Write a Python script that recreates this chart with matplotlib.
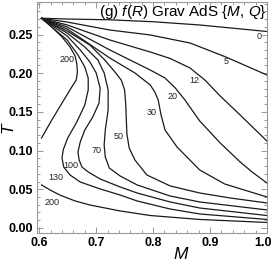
import matplotlib
matplotlib.use('Agg')
import matplotlib.pyplot as plt
from matplotlib.ticker import MultipleLocator, FormatStrFormatter
from matplotlib.transforms import ScaledTranslation

plt.rcParams['font.family'] = ['Liberation Sans', 'DejaVu Sans']
plt.rcParams['mathtext.fontset'] = 'custom'
plt.rcParams['mathtext.rm'] = 'Liberation Sans'
plt.rcParams['mathtext.it'] = 'Liberation Sans:italic'

# ---- contour lines (M, T) ----
M_0 = [0.604, 0.649, 0.724, 0.800, 0.882, 1.000]
T_0 = [0.271, 0.2700, 0.2690, 0.2665, 0.2623, 0.2539]

M_5 = [0.604, 0.649, 0.724, 0.795, 0.865, 0.928, 1.000]
T_5 = [0.271, 0.2661, 0.2558, 0.2494, 0.2390, 0.2209, 0.1977]

M_12 = [0.604, 0.649, 0.724, 0.795, 0.830, 0.865, 0.891, 0.918, 0.953, 1.000]
T_12 = [0.271, 0.2623, 0.2429, 0.2274, 0.2190, 0.2067, 0.1912, 0.1705, 0.1460, 0.1124]

M_20 = [0.604, 0.649, 0.724, 0.795, 0.821, 0.839, 0.856, 0.882, 0.918, 0.953, 0.974, 1.000]
T_20 = [0.271, 0.2597, 0.2300, 0.2041, 0.1938, 0.1809, 0.1654, 0.1382, 0.1098, 0.0853, 0.0724, 0.0581]

M_30 = [0.604, 0.649, 0.724, 0.768, 0.795, 0.803, 0.809, 0.814, 0.821, 0.842, 0.882, 0.926, 1.000]
T_30 = [0.271, 0.2571, 0.2196, 0.2003, 0.1848, 0.1757, 0.1654, 0.1460, 0.1266, 0.1047, 0.0749, 0.0568, 0.0401]

M_50 = [0.604, 0.649, 0.689, 0.715, 0.733, 0.744, 0.750, 0.752, 0.753, 0.754, 0.758, 0.768, 0.789, 0.830, 0.882, 0.935, 1.000]
T_50 = [0.271, 0.2545, 0.2364, 0.2171, 0.2016, 0.1912, 0.1783, 0.1589, 0.1395, 0.1214, 0.1034, 0.0879, 0.0685, 0.0543, 0.0452, 0.0388, 0.0323]

M_70 = [0.604, 0.649, 0.680, 0.703, 0.714, 0.721, 0.721, 0.716, 0.714, 0.716, 0.723, 0.742, 0.772, 0.830, 0.882, 1.000]
T_70 = [0.271, 0.2519, 0.2339, 0.2171, 0.2003, 0.1783, 0.1525, 0.1266, 0.1072, 0.0917, 0.0775, 0.0672, 0.0556, 0.0413, 0.0336, 0.0233]

M_100 = [0.604, 0.649, 0.672, 0.689, 0.700, 0.707, 0.705, 0.694, 0.680, 0.672, 0.668, 0.670, 0.675, 0.686, 0.707, 0.742, 0.772, 0.830, 0.882, 1.000]
T_100 = [0.271, 0.2481, 0.2300, 0.2145, 0.2003, 0.1809, 0.1615, 0.1434, 0.1266, 0.1111, 0.0982, 0.0879, 0.0788, 0.0724, 0.0633, 0.0530, 0.0452, 0.0336, 0.0258, 0.0161]

M_130 = [0.604, 0.628, 0.649, 0.668, 0.680, 0.686, 0.686, 0.680, 0.666, 0.650, 0.642, 0.640, 0.643, 0.654, 0.672, 0.707, 0.742, 0.772, 0.830, 0.882, 1.000]
T_130 = [0.271, 0.2558, 0.2429, 0.2235, 0.2080, 0.1938, 0.1783, 0.1589, 0.1370, 0.1163, 0.1008, 0.0904, 0.0788, 0.0685, 0.0594, 0.0504, 0.0426, 0.0349, 0.0245, 0.0181, 0.0110]

M_200a = [0.604, 0.622, 0.640, 0.654, 0.663, 0.666, 0.667, 0.665, 0.656, 0.640, 0.622, 0.604]
T_200a = [0.271, 0.2597, 0.2468, 0.2339, 0.2222, 0.2119, 0.2016, 0.1912, 0.1809, 0.1615, 0.1395, 0.1163]

M_200b = [0.604, 0.619, 0.636, 0.663, 0.689, 0.742, 0.795, 0.882, 1.000]
T_200b = [0.0556, 0.0491, 0.0426, 0.0349, 0.0297, 0.0220, 0.0161, 0.0110, 0.0071]

curves = [(M_0, T_0), (M_5, T_5), (M_12, T_12), (M_20, T_20), (M_30, T_30),
          (M_50, T_50), (M_70, T_70), (M_100, T_100), (M_130, T_130),
          (M_200a, T_200a), (M_200b, T_200b)]

label_text = ['0', '5', '12', '20', '30', '50', '70', '100', '130', '200', '200']
label_M = [0.986, 0.928, 0.872, 0.835, 0.798, 0.739, 0.701, 0.656, 0.629, 0.649, 0.622]
label_T = [0.2468, 0.2145, 0.190, 0.1693, 0.1486, 0.1176, 0.0995, 0.0801, 0.0646, 0.2171, 0.0323]

fig = plt.figure(figsize=(2.74, 2.68), dpi=100)
ax = fig.add_axes([37/274, 35/268, 230/274, 231/268])

for m, t in curves:
    ax.plot(m, t, color='#1a1a1a', lw=0.9, solid_joinstyle='round')

for s, m, t in zip(label_text, label_M, label_T):
    ax.text(m, t, s, fontsize=6.5, ha='center', va='center', color='#222222')

ax.set_xlim(0.596, 1.0002)
ax.set_ylim(-0.0065, 0.292)

ax.xaxis.set_major_locator(MultipleLocator(0.1))
ax.xaxis.set_minor_locator(MultipleLocator(0.02))
ax.yaxis.set_major_locator(MultipleLocator(0.05))
ax.yaxis.set_minor_locator(MultipleLocator(0.01))
ax.xaxis.set_major_formatter(FormatStrFormatter('%.1f'))
ax.yaxis.set_major_formatter(FormatStrFormatter('%.2f'))
ax.tick_params(which='both', direction='in', top=True, right=True, color='#999999', width=0.7)
ax.tick_params(which='major', length=4, labelsize=9, pad=3)
ax.tick_params(which='minor', length=2)
for sp in ax.spines.values():
    sp.set_color('#999999')
    sp.set_linewidth(0.8)

fig.canvas.draw()
for lab in ax.get_xticklabels() + ax.get_yticklabels():
    lab.set_fontweight('bold')
shift = ScaledTranslation(-4/100, 0, fig.dpi_scale_trans)
for lab in ax.get_xticklabels():
    if lab.get_text() == '1.0':
        lab.set_transform(lab.get_transform() + shift)

ax.set_xlabel('M', fontstyle='italic', fontsize=12.5)
ax.xaxis.set_label_coords((181 - 37) / 230, -0.062)
ax.set_ylabel('T', fontstyle='italic', fontsize=12.5)
ax.yaxis.set_label_coords(-0.095, 0.455)

ax.text(0.998, 0.957, r'(g) $\mathit{f(R)}$ Grav AdS {$M$, $Q$}', transform=ax.transAxes,
        ha='right', va='center', fontsize=11)

fig.savefig('out.png', dpi=100)
